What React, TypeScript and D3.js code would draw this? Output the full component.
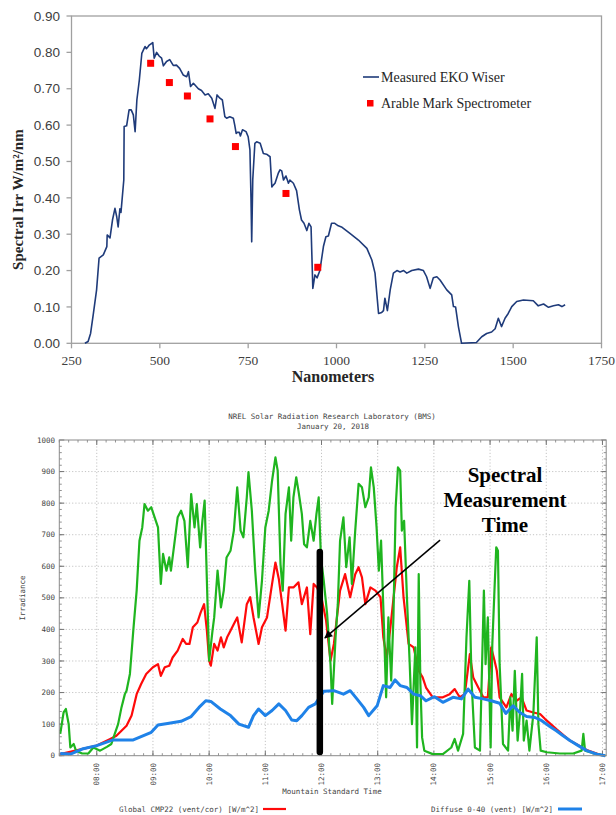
import React from "react";
import * as d3 from "d3";

const W = 616;
const H = 815;

// ---------- top panel: spectral irradiance ----------
const spectrumNm = [
  288, 297, 304, 312, 321, 328, 340, 350, 351, 359, 366, 373, 378, 382, 387, 390, 398, 399, 406, 413,
  419, 425, 430, 435, 442, 449, 458, 462, 467, 470, 480, 484, 491, 498, 505, 510, 519, 528, 538, 547,
  556, 566, 576, 581, 587, 595, 609, 618, 628, 637, 647, 656, 662, 670, 677, 684, 689, 698, 708, 712,
  716, 719, 725, 728, 734, 744, 750, 755, 758, 760, 763, 769, 774, 784, 793, 802, 812, 817, 821, 826,
  835, 840, 845, 850, 857, 864, 868, 878, 887, 895, 901, 908, 916, 922, 928, 933, 939, 945, 953, 963,
  970, 977, 986, 995, 1005, 1014, 1038, 1062, 1086, 1100, 1109, 1119, 1128, 1133, 1137, 1144, 1152, 1161, 1171, 1180,
  1190, 1199, 1213, 1232, 1246, 1255, 1265, 1274, 1284, 1293, 1312, 1326, 1331, 1337, 1345, 1354, 1396, 1411, 1425, 1439,
  1449, 1458, 1467, 1477, 1486, 1496, 1510, 1529, 1557, 1571, 1586, 1600, 1614, 1628, 1638, 1647,
];
const spectrumIrr = [
  0, 0.005, 0.027, 0.082, 0.147, 0.234, 0.243, 0.266, 0.298, 0.29, 0.339, 0.371, 0.348, 0.32, 0.37, 0.36, 0.449, 0.596, 0.598, 0.642,
  0.642, 0.628, 0.582, 0.669, 0.724, 0.797, 0.816, 0.81, 0.816, 0.82, 0.827, 0.784, 0.8, 0.79, 0.784, 0.763, 0.775, 0.78, 0.764, 0.765,
  0.756, 0.738, 0.733, 0.747, 0.706, 0.715, 0.7, 0.695, 0.683, 0.686, 0.674, 0.646, 0.683, 0.674, 0.669, 0.623, 0.619, 0.623, 0.619, 0.6,
  0.577, 0.58, 0.58, 0.57, 0.587, 0.582, 0.568, 0.532, 0.4, 0.279, 0.45, 0.55, 0.554, 0.55, 0.522, 0.52, 0.513, 0.43, 0.435, 0.44,
  0.467, 0.477, 0.474, 0.449, 0.46, 0.44, 0.449, 0.44, 0.42, 0.367, 0.339, 0.33, 0.31, 0.33, 0.32, 0.151, 0.188, 0.18, 0.2, 0.266,
  0.293, 0.295, 0.33, 0.33, 0.323, 0.32, 0.302, 0.284, 0.261, 0.229, 0.193, 0.082, 0.085, 0.09, 0.124, 0.09, 0.147, 0.193, 0.2, 0.196,
  0.2, 0.193, 0.2, 0.204, 0.2, 0.183, 0.151, 0.18, 0.183, 0.174, 0.147, 0.133, 0.101, 0.1, 0.046, 0, 0.002, 0.018, 0.027, 0.031,
  0.04, 0.069, 0.046, 0.069, 0.082, 0.101, 0.115, 0.119, 0.117, 0.103, 0.108, 0.099, 0.103, 0.106, 0.101, 0.106,
];
const arableNm = [474, 527, 578, 642, 714, 857, 947];
const arableIrr = [0.77, 0.717, 0.68, 0.617, 0.541, 0.412, 0.209];
const nmTicks = [250, 500, 750, 1000, 1250, 1500, 1750];
const irrTicks = [0, 0.1, 0.2, 0.3, 0.4, 0.5, 0.6, 0.7, 0.8, 0.9];

// ---------- bottom panel: NREL BMS irradiance ----------
const hourTicks = [8, 9, 10, 11, 12, 13, 14, 15, 16, 17];
const wattTicks = [0, 100, 200, 300, 400, 500, 600, 700, 800, 900, 1000];

// [hour of day, W/m^2]
const globalSeries: [number, number][] = [
  [7.35, 5], [7.62, 16], [8.0, 32], [8.24, 53], [8.35, 63], [8.44, 79], [8.53, 95], [8.62, 127], [8.71, 195], [8.79, 227],
  [8.88, 259], [9.0, 280], [9.09, 290], [9.14, 253], [9.21, 280], [9.29, 285], [9.35, 311], [9.44, 333], [9.53, 370], [9.59, 354],
  [9.65, 354], [9.71, 407], [9.79, 422], [9.85, 454], [9.91, 480], [9.96, 396], [10.0, 301], [10.03, 285], [10.09, 354], [10.15, 333],
  [10.21, 375], [10.26, 343], [10.32, 375], [10.38, 396], [10.44, 417], [10.5, 438], [10.58, 359], [10.67, 480], [10.73, 502], [10.79, 438],
  [10.88, 354], [10.94, 407], [11.03, 438], [11.12, 544], [11.18, 612], [11.24, 560], [11.3, 480], [11.36, 396], [11.42, 533], [11.5, 533],
  [11.59, 549], [11.65, 480], [11.74, 533], [11.8, 385], [11.86, 544], [11.92, 533], [12.0, 500], [12.08, 430], [12.16, 301], [12.22, 354],
  [12.33, 523], [12.42, 575], [12.51, 502], [12.6, 575], [12.66, 597], [12.72, 565], [12.78, 480], [12.87, 533], [12.96, 523], [13.05, 502],
  [13.1, 375], [13.16, 311], [13.22, 396], [13.34, 597], [13.4, 660], [13.46, 502], [13.55, 354], [13.64, 343], [13.73, 269], [13.8, 248],
  [13.86, 216], [13.98, 185], [14.16, 185], [14.28, 195], [14.37, 211], [14.46, 185], [14.55, 195], [14.64, 322], [14.7, 248], [14.79, 216],
  [14.88, 185], [14.96, 185], [15.02, 343], [15.08, 301], [15.12, 269], [15.17, 185], [15.29, 153], [15.38, 195], [15.47, 174], [15.56, 185],
  [15.65, 143], [15.77, 137], [15.89, 132], [15.98, 116], [16.18, 84], [16.42, 48], [16.72, 18], [16.96, 3],
];

const directSeries: [number, number][] = [
  [7.35, 69], [7.41, 137], [7.45, 148], [7.5, 100], [7.53, 26], [7.59, 37], [7.63, 16], [7.74, 7], [7.85, 7], [7.94, 26],
  [8.06, 16], [8.18, 28], [8.26, 37], [8.32, 69], [8.38, 100], [8.44, 153], [8.5, 195], [8.53, 206], [8.59, 259], [8.65, 396],
  [8.71, 523], [8.76, 681], [8.81, 723], [8.85, 797], [8.91, 776], [8.97, 787], [9.03, 755], [9.09, 723], [9.14, 544], [9.18, 639],
  [9.24, 586], [9.29, 628], [9.32, 586], [9.38, 670], [9.44, 755], [9.5, 776], [9.56, 744], [9.62, 597], [9.68, 829], [9.74, 723],
  [9.78, 797], [9.84, 660], [9.88, 744], [9.92, 808], [9.96, 554], [10.0, 301], [10.06, 396], [10.09, 438], [10.15, 586], [10.21, 470],
  [10.26, 523], [10.31, 628], [10.38, 649], [10.44, 713], [10.5, 850], [10.56, 713], [10.61, 692], [10.67, 818], [10.7, 898], [10.76, 776],
  [10.82, 586], [10.88, 438], [10.94, 554], [11.0, 723], [11.06, 776], [11.12, 871], [11.18, 945], [11.22, 903], [11.27, 607], [11.31, 523],
  [11.36, 766], [11.42, 850], [11.46, 681], [11.5, 818], [11.55, 882], [11.59, 839], [11.65, 766], [11.69, 670], [11.74, 660], [11.8, 744],
  [11.86, 681], [11.91, 766], [11.95, 818], [11.99, 628], [12.04, 554], [12.1, 449], [12.16, 290], [12.19, 164], [12.25, 375], [12.29, 480],
  [12.33, 681], [12.39, 755], [12.44, 597], [12.5, 692], [12.54, 544], [12.6, 713], [12.66, 861], [12.72, 850], [12.78, 787], [12.84, 818],
  [12.88, 913], [12.93, 850], [12.98, 723], [13.02, 586], [13.06, 681], [13.11, 417], [13.15, 185], [13.19, 438], [13.24, 238], [13.28, 438],
  [13.32, 787], [13.36, 913], [13.4, 903], [13.43, 713], [13.47, 744], [13.52, 502], [13.57, 290], [13.61, 100], [13.67, 343], [13.7, 26],
  [13.73, 575], [13.76, 227], [13.79, 58], [13.83, 16], [13.98, 5], [14.16, 5], [14.31, 26], [14.37, 53], [14.43, 16], [14.52, 69],
  [14.58, 375], [14.63, 554], [14.67, 238], [14.73, 26], [14.82, 16], [14.89, 523], [14.92, 290], [14.96, 438], [15.01, 26], [15.04, 354],
  [15.08, 533], [15.11, 660], [15.14, 649], [15.17, 290], [15.23, 37], [15.32, 16], [15.36, 185], [15.4, 79], [15.44, 269], [15.49, 48],
  [15.53, 132], [15.57, 259], [15.6, 48], [15.65, 111], [15.7, 16], [15.77, 132], [15.83, 375], [15.86, 100], [15.9, 16], [16.01, 11],
  [16.24, 7], [16.48, 7], [16.63, 16], [16.66, 69], [16.69, 16], [16.9, 5], [17.05, 0],
];

const diffuseSeries: [number, number][] = [
  [7.35, 7], [7.53, 5], [7.74, 21], [8.0, 32], [8.29, 50], [8.65, 50], [8.97, 74], [9.09, 97], [9.26, 102], [9.5, 109],
  [9.68, 124], [9.82, 153], [9.94, 174], [10.03, 172], [10.2, 148], [10.38, 127], [10.53, 100], [10.7, 90], [10.79, 127], [10.88, 148],
  [11.0, 127], [11.12, 143], [11.24, 164], [11.36, 143], [11.47, 113], [11.56, 111], [11.65, 127], [11.77, 153], [11.89, 164], [12.04, 204],
  [12.22, 206], [12.39, 195], [12.51, 206], [12.63, 180], [12.75, 153], [12.84, 127], [12.99, 158], [13.1, 222], [13.22, 216], [13.31, 240],
  [13.4, 222], [13.52, 216], [13.64, 195], [13.76, 190], [13.86, 174], [14.01, 187], [14.16, 169], [14.34, 185], [14.49, 180], [14.61, 211],
  [14.73, 185], [14.88, 180], [15.02, 174], [15.17, 166], [15.28, 134], [15.41, 158], [15.53, 137], [15.65, 124], [15.8, 121], [15.92, 111],
  [16.07, 92], [16.18, 79], [16.3, 63], [16.42, 48], [16.57, 32], [16.72, 16], [16.9, 5], [17.05, 0],
];

const measurementHour = 11.97;
const measurementBar = [12, 645];
const arrowFrom: [number, number] = [14.11, 683];
const arrowTo: [number, number] = [12.06, 373];

const SERIF = "'Liberation Serif', 'Times New Roman', serif";
const SANS = "'Liberation Sans', Arial, sans-serif";
const MONO = "'DejaVu Sans Mono', monospace";

const SpectrumPanel = () => {
  const x = d3.scaleLinear().domain([250, 1750]).range([71.5, 601.5]);
  const y = d3.scaleLinear().domain([0, 0.9]).range([343.3, 16]);
  const line = d3
    .line<number>()
    .x((_, i) => x(spectrumNm[i]))
    .y((d) => y(d));
  const frame = "#a0a0a0";

  return (
    <g>
      {/* plot frame */}
      <rect x={x(250)} y={y(0.9)} width={x(1750) - x(250)} height={y(0) - y(0.9)} fill="none" stroke={frame} strokeWidth={1.3} />

      {irrTicks.map((t) => (
        <g key={`yt-${t}`}>
          <line x1={x(250) - 5} x2={x(250)} y1={y(t)} y2={y(t)} stroke={frame} strokeWidth={1.3} />
          <text x={60} y={y(t)} dy="0.35em" textAnchor="end" fontFamily={SANS} fontSize={13.5} fill="#404040">
            {t.toFixed(2)}
          </text>
        </g>
      ))}

      {nmTicks.map((t) => (
        <g key={`xt-${t}`}>
          <line x1={x(t)} x2={x(t)} y1={y(0)} y2={y(0) + 5} stroke={frame} strokeWidth={1.3} />
          <text x={x(t)} y={365} textAnchor="middle" fontFamily={SERIF} fontSize={13.5} fill="#404040">
            {t}
          </text>
        </g>
      ))}

      <path d={line(spectrumIrr) ?? ""} fill="none" stroke="#1f3b7a" strokeWidth={1.6} strokeLinejoin="round" />

      {arableNm.map((nm, i) => (
        <rect key={`ar-${nm}`} x={x(nm) - 3.5} y={y(arableIrr[i]) - 3.5} width={7} height={7} fill="#ff0000" />
      ))}

      {/* legend */}
      <line x1={363} x2={379} y1={77} y2={77} stroke="#1f3b7a" strokeWidth={1.6} />
      <text x={381} y={81.5} fontFamily={SERIF} fontSize={14} fill="#262626">
        Measured EKO Wiser
      </text>
      <rect x={367} y={100} width={6.5} height={6.5} fill="#ff0000" />
      <text x={381} y={108} fontFamily={SERIF} fontSize={14} fill="#262626">
        Arable Mark Spectrometer
      </text>

      <text
        transform={`translate(23, ${y(0.9) + (y(0) - y(0.9)) / 2 + 20}) rotate(-90)`}
        textAnchor="middle"
        fontFamily={SERIF}
        fontWeight="bold"
        fontSize={15}
        fill="#262626"
      >
        Spectral Irr W/m²/nm
      </text>
      <text x={333} y={382} textAnchor="middle" fontFamily={SERIF} fontWeight="bold" fontSize={16} fill="#262626">
        Nanometers
      </text>
    </g>
  );
};

const BmsPanel = () => {
  const x = d3.scaleLinear().domain([7 + 20 / 60, 17 + 4 / 60]).range([59.3, 606.2]);
  const y = d3.scaleLinear().domain([0, 1000]).range([755.7, 440]);
  const line = d3
    .line<[number, number]>()
    .x((d) => x(d[0]))
    .y((d) => y(d[1]));
  const [x0, x1] = x.range();
  const [y0, y1] = y.range();
  const minorHours = d3.range(x.domain()[0], x.domain()[1], 1 / 6);
  const minorWatts = d3.range(0, 1000, 20);
  const grid = "#c4c4c4";
  const tickCol = "#777";
  const txt = "#444";

  return (
    <g>
      <defs>
        <marker id="arrowHead" viewBox="0 0 10 10" refX={9} refY={5} markerWidth={9} markerHeight={8} orient="auto" markerUnits="userSpaceOnUse">
          <path d="M0,0 L10,5 L0,10 z" fill="#000" />
        </marker>
      </defs>

      <text x={332} y={419} textAnchor="middle" fontFamily={MONO} fontSize={7.5} fill={txt}>
        NREL Solar Radiation Research Laboratory (BMS)
      </text>
      <text x={333} y={429} textAnchor="middle" fontFamily={MONO} fontSize={7.5} fill={txt}>
        January 20, 2018
      </text>

      {/* dotted grid */}
      {hourTicks.map((h) => (
        <line key={`gx-${h}`} x1={x(h)} x2={x(h)} y1={y1} y2={y0} stroke={grid} strokeDasharray="1.2,2" />
      ))}
      {wattTicks.slice(1, -1).map((w) => (
        <line key={`gy-${w}`} x1={x0} x2={x1} y1={y(w)} y2={y(w)} stroke={grid} strokeDasharray="1.2,2" />
      ))}

      {/* minor ticks */}
      {minorHours.map((h, i) => (
        <g key={`mh-${i}`}>
          <line x1={x(h)} x2={x(h)} y1={y1} y2={y1 + 2.5} stroke={tickCol} strokeWidth={0.8} />
          <line x1={x(h)} x2={x(h)} y1={y0} y2={y0 - 2.5} stroke={tickCol} strokeWidth={0.8} />
        </g>
      ))}
      {minorWatts.map((w) => (
        <g key={`mw-${w}`}>
          <line x1={x0} x2={x0 + 2.5} y1={y(w)} y2={y(w)} stroke={tickCol} strokeWidth={0.8} />
          <line x1={x1} x2={x1 - 2.5} y1={y(w)} y2={y(w)} stroke={tickCol} strokeWidth={0.8} />
        </g>
      ))}
      {hourTicks.map((h) => (
        <g key={`hx-${h}`}>
          <line x1={x(h)} x2={x(h)} y1={y1} y2={y1 + 5} stroke={tickCol} />
          <line x1={x(h)} x2={x(h)} y1={y0} y2={y0 - 5} stroke={tickCol} />
          <text
            transform={`translate(${x(h) + 2.6}, 763) rotate(-90)`}
            textAnchor="end"
            fontFamily={MONO}
            fontSize={7.5}
            fill={txt}
          >
            {`${String(h).padStart(2, "0")}:00`}
          </text>
        </g>
      ))}
      {wattTicks.map((w) => (
        <g key={`wy-${w}`}>
          <line x1={x0} x2={x0 + 5} y1={y(w)} y2={y(w)} stroke={tickCol} />
          <line x1={x1} x2={x1 - 5} y1={y(w)} y2={y(w)} stroke={tickCol} />
          <text x={55} y={y(w)} dy="0.35em" textAnchor="end" fontFamily={MONO} fontSize={7.5} fill={txt}>
            {w}
          </text>
        </g>
      ))}

      <path d={line(globalSeries) ?? ""} fill="none" stroke="#ff0a0a" strokeWidth={2.2} strokeLinejoin="round" />
      <path d={line(directSeries) ?? ""} fill="none" stroke="#1fb51f" strokeWidth={2.2} strokeLinejoin="round" />
      <path d={line(diffuseSeries) ?? ""} fill="none" stroke="#1f82e8" strokeWidth={3} strokeLinejoin="round" />

      <rect x={x0} y={y1} width={x1 - x0} height={y0 - y1} fill="none" stroke="#8a8a8a" strokeWidth={1} />

      {/* spectral measurement marker */}
      <line
        x1={x(measurementHour)}
        x2={x(measurementHour)}
        y1={y(measurementBar[0])}
        y2={y(measurementBar[1])}
        stroke="#000"
        strokeWidth={6.5}
        strokeLinecap="round"
      />
      <line
        x1={x(arrowFrom[0])}
        y1={y(arrowFrom[1])}
        x2={x(arrowTo[0])}
        y2={y(arrowTo[1])}
        stroke="#000"
        strokeWidth={1.5}
        markerEnd="url(#arrowHead)"
      />
      <g fontFamily={SERIF} fontWeight="bold" fontSize={21} fill="#000" textAnchor="middle">
        <text x={505} y={482}>Spectral</text>
        <text x={505} y={507}>Measurement</text>
        <text x={505} y={532}>Time</text>
      </g>

      <text transform="translate(25, 598) rotate(-90)" textAnchor="middle" fontFamily={MONO} fontSize={7.5} fill={txt}>
        Irradiance
      </text>
      <text x={332} y={794} textAnchor="middle" fontFamily={MONO} fontSize={7.5} fill={txt}>
        Mountain Standard Time
      </text>

      {/* legend */}
      <text x={259} y={811.5} textAnchor="end" fontFamily={MONO} fontSize={7.5} fill={txt}>
        Global CMP22 (vent/cor) [W/m^2]
      </text>
      <line x1={263} x2={286} y1={809} y2={809} stroke="#ff0a0a" strokeWidth={2.2} />
      <text x={553} y={811.5} textAnchor="end" fontFamily={MONO} fontSize={7.5} fill={txt}>
        Diffuse 0-40 (vent) [W/m^2]
      </text>
      <line x1={558} x2={582} y1={809} y2={809} stroke="#1f82e8" strokeWidth={3} />
    </g>
  );
};

export default function App() {
  return (
    <svg
      width={W}
      height={H}
      viewBox={`0 0 ${W} ${H}`}
      style={{ position: "absolute", left: 0, top: 0, background: "#fff" }}
    >
      <SpectrumPanel />
      <BmsPanel />
    </svg>
  );
}
